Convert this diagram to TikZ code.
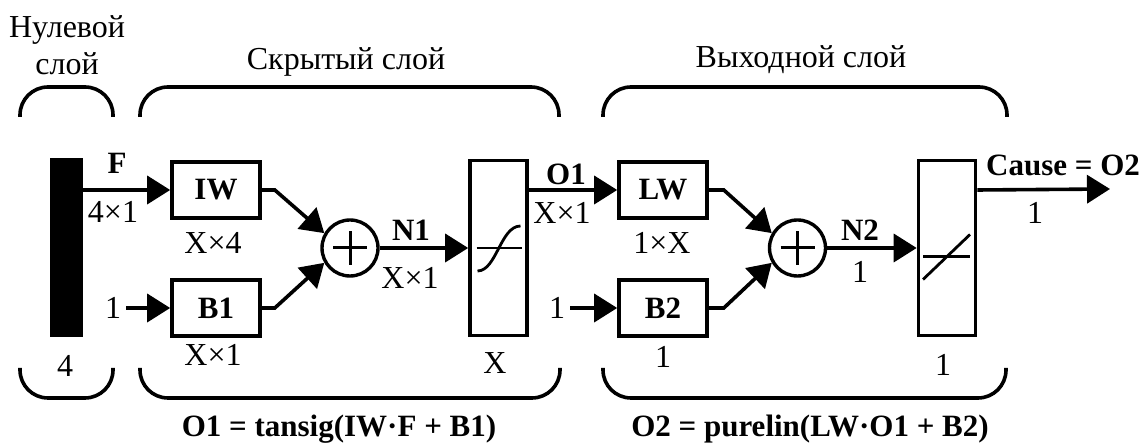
\documentclass[tikz,border=0pt]{standalone}
\usepackage{fontspec}
\setmainfont{Liberation Serif}
\usetikzlibrary{arrows.meta}
\tikzset{
  wbox/.style={draw, line width=3.6pt, minimum width=88pt, minimum height=56pt, font=\fontsize{31}{37}\selectfont\bfseries},
  tfbox/.style={draw, line width=3.6pt, minimum width=57pt, minimum height=175pt},
  sumnode/.style={draw, circle, line width=3.4pt, minimum size=56pt, inner sep=0pt},
  lbl/.style={font=\fontsize{32}{37}\selectfont, inner sep=1pt},
  blbl/.style={lbl, font=\fontsize{31}{37}\selectfont\bfseries},
  arr/.style={line width=3.6pt, -{Triangle[length=23pt,width=28pt]}},
  brace/.style={line width=3.6pt, rounded corners=28pt}
}
\begin{document}
\begin{tikzpicture}[x=1pt,y=1pt]
\useasboundingbox (0,0) rectangle (1143,443);
% layer titles
\node[lbl, align=center] (zerotitle) at (67,398) {Нулевой\\слой};
\node[lbl] (hidtitle) at (346,381) {Скрытый слой};
\node[lbl] (outtitle) at (801,383) {Выходной слой};
% braces
\draw[brace] (20,326) -- (20,356) -- (113,356) -- (113,326);
\draw[brace] (140,326) -- (140,356) -- (559,356) -- (559,326);
\draw[brace] (603,326) -- (603,356) -- (1007,356) -- (1007,326);
\draw[brace] (20,75) -- (20,45) -- (113,45) -- (113,75);
\draw[brace] (140,75) -- (140,45) -- (560,45) -- (560,75);
\draw[brace] (603,75) -- (603,45) -- (1006,45) -- (1006,75);
% blocks
\node[fill, minimum width=33pt, minimum height=179pt, inner sep=0pt] (bar) at (66.5,195) {};
\node[wbox] (IW) at (216,253) {IW};
\node[wbox] (B1) at (216,135) {B1};
\node[sumnode] (sum1) at (350,195) {};
\node[tfbox] (tf1) at (498.5,195) {};
\node[wbox] (LW) at (663,253) {LW};
\node[wbox] (B2) at (663,135) {B2};
\node[sumnode] (sum2) at (797.5,195) {};
\node[tfbox] (tf2) at (947,195) {};
\node[lbl, inner sep=5pt] (one1) at (113,135) {1};
\node[lbl, inner sep=5pt] (one2) at (557,135) {1};
\coordinate (out) at (1110,254);
% glyphs inside
\begin{scope}[shift={(sum1.center)}, line width=3pt]
\draw (-17,0) -- (17,0) (0,-17) -- (0,17);
\end{scope}
\begin{scope}[shift={(sum2.center)}, line width=3pt]
\draw (-17,0) -- (17,0) (0,-17) -- (0,17);
\end{scope}
\begin{scope}[shift={(tf1.center)}, line width=2.8pt]
\draw (-22,0) -- (23,0);
\draw (-21,-23) .. controls (-2,-23) and (2,22) .. (22,22);
\end{scope}
\begin{scope}[shift={(tf2.center)}, line width=2.8pt]
\draw (-24,-8.5) -- (23,-8.5);
\draw (-24,-31.5) -- (23,13.5);
\end{scope}
% connectors
\draw[arr] (bar.east |- IW.west) -- (IW.west);
\draw[arr] (one1) -- (B1);
\draw[arr] (IW.east) -- ++(13,0) -- (sum1.150);
\draw[arr] (B1.east) -- ++(13,0) -- (sum1.210);
\draw[arr] (sum1) -- (tf1);
\draw[arr] (tf1.east |- LW.west) -- (LW.west);
\draw[arr] (one2) -- (B2);
\draw[arr] (LW.east) -- ++(15,0) -- (sum2.150);
\draw[arr] (B2.east) -- ++(15,0) -- (sum2.210);
\draw[arr] (sum2) -- (tf2);
\draw[arr] (tf2.east |- LW.west) -- (out);
% labels
\node[blbl] (Flbl) at (117,280) {F};
\node[lbl] (Fdim) at (113,231) {4×1};
\node[lbl] (IWdim) at (213,200) {X×4};
\node[lbl] (B1dim) at (213,88) {X×1};
\node[lbl] (bardim) at (65,77) {4};
\node[blbl] (N1lbl) at (411,213) {N1};
\node[lbl] (N1dim) at (410,165) {X×1};
\node[lbl] (tf1dim) at (495,80) {X};
\node[blbl] (O1lbl) at (566,269) {O1};
\node[lbl] (O1dim) at (562,230) {X×1};
\node[lbl] (LWdim) at (662,200) {1×X};
\node[lbl] (B2dim) at (663,86) {1};
\node[blbl] (N2lbl) at (860,213) {N2};
\node[lbl] (N2dim) at (860,171) {1};
\node[lbl] (tf2dim) at (943,78) {1};
\node[blbl] (outlbl) at (1063,278) {Cause = O2};
\node[lbl] (outdim) at (1035,230) {1};
\node[blbl, anchor=base] (eq1) at (339,6) {O1 = tansig(IW·F + B1)};
\node[blbl, anchor=base] (eq2) at (810,6) {O2 = purelin(LW·O1 + B2)};
\end{tikzpicture}
\end{document}
